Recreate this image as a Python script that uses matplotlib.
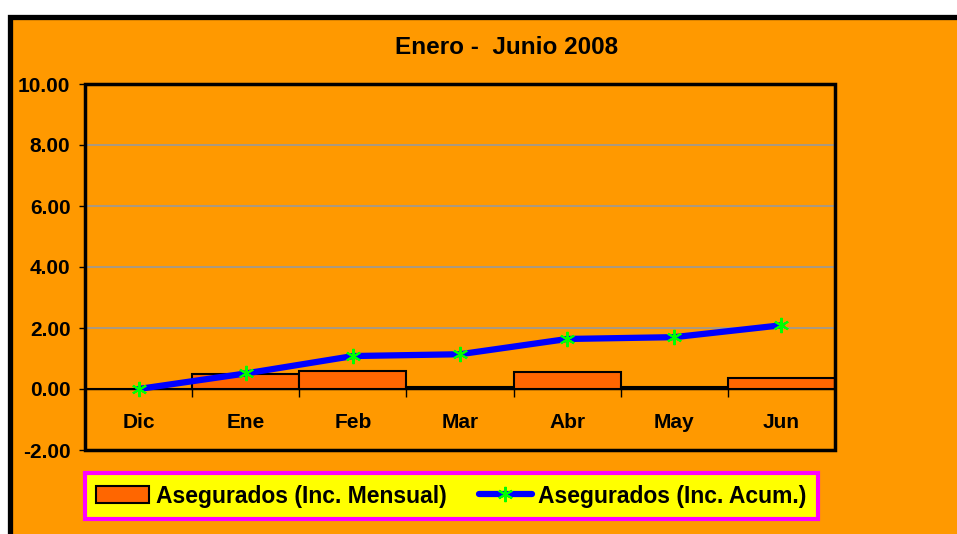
import matplotlib
matplotlib.use("Agg")
import matplotlib.pyplot as plt
from matplotlib.patches import Rectangle
import numpy as np

plt.rcParams['font.family'] = ['Liberation Sans', 'DejaVu Sans']
plt.rcParams['font.weight'] = 'bold'

meses = ['Dic', 'Ene', 'Feb', 'Mar', 'Abr', 'May', 'Jun']
inc_mensual = [0.0, 0.49, 0.58, 0.07, 0.57, 0.06, 0.37]
inc_acum = [0.0, 0.51, 1.08, 1.14, 1.64, 1.70, 2.09]
y_ticks = [-2, 0, 2, 4, 6, 8, 10]

naranja = '#FF9900'

fig = plt.figure(figsize=(9.57, 5.34), dpi=100)
fig.patch.set_facecolor('white')

# orange chart area with thick black border (cut at right and bottom)
bg = fig.add_axes([0, 0, 1, 1], zorder=-1)
bg.set_axis_off()
bg.set_xlim(0, 1)
bg.set_ylim(0, 1)
bg.add_patch(Rectangle((10 / 957, -0.2), 1.2, 1 - 17 / 534 + 0.2,
                       facecolor=naranja, edgecolor='black', linewidth=3.8))

ax = fig.add_axes([85 / 957, 1 - 450 / 534, 750 / 957, 366 / 534])
ax.set_facecolor(naranja)

x = np.arange(len(meses))
barras = ax.bar(x, inc_mensual, width=1.0, color='#FF6600', edgecolor='black', linewidth=1.5,
                label='Asegurados (Inc. Mensual)', zorder=2)
linea, = ax.plot(x, inc_acum, color='#0000FF', linewidth=4.5, marker=(6, 2, 0), markersize=11,
                 markeredgecolor='#00FF00', markerfacecolor='#00FF00', markeredgewidth=1.5,
                 label='Asegurados (Inc. Acum.)', zorder=3, solid_capstyle='round')

ax.set_xlim(-0.5, len(meses) - 0.5)
ax.set_ylim(-2, 10)
ax.set_yticks(y_ticks)
ax.set_yticklabels([f'{v:.2f}' for v in y_ticks])
ax.tick_params(axis='y', length=4.5, width=1, labelsize=15, pad=6)
for v in y_ticks[2:-1]:
    ax.axhline(v, color='#999999', linewidth=1.2, zorder=1)

# x axis crosses at zero
ax.spines['bottom'].set_position(('data', 0))
ax.spines['bottom'].set_linewidth(1)
for s in ['left', 'right', 'top']:
    ax.spines[s].set_visible(False)
ax.add_patch(Rectangle((0, 0), 1, 1, transform=ax.transAxes, fill=False,
                       edgecolor='black', linewidth=2.5, zorder=5, clip_on=False))

ax.set_xticks(x[:-1] + 0.5)
ax.set_xticklabels([])
ax.set_xticks(x, minor=True)
ax.set_xticklabels(meses, minor=True)
ax.tick_params(axis='x', which='major', length=6, width=1, direction='out')
ax.tick_params(axis='x', which='minor', length=0, pad=17, labelsize=15)

fig.text(507 / 957, 1 - 47 / 534, 'Enero -  Junio 2008', ha='center', va='center',
         fontsize=17.5, fontweight='bold')

leg = fig.legend([barras, linea], ['Asegurados (Inc. Mensual)', 'Asegurados (Inc. Acum.)'],
                 loc='center left', ncol=2,
                 bbox_to_anchor=(85 / 957, 1 - 496 / 534), borderaxespad=0,
                 fontsize=16.5, frameon=True, fancybox=False,
                 handlelength=2.3, handleheight=0.7, borderpad=0.5, columnspacing=1.4,
                 handletextpad=0.3)
leg.get_frame().set_facecolor('#FFFF00')
leg.get_frame().set_edgecolor('#FF00FF')
leg.get_frame().set_linewidth(3)
leg.get_frame().set_alpha(1)

fig.savefig('out.png', dpi=100, facecolor=fig.get_facecolor())
